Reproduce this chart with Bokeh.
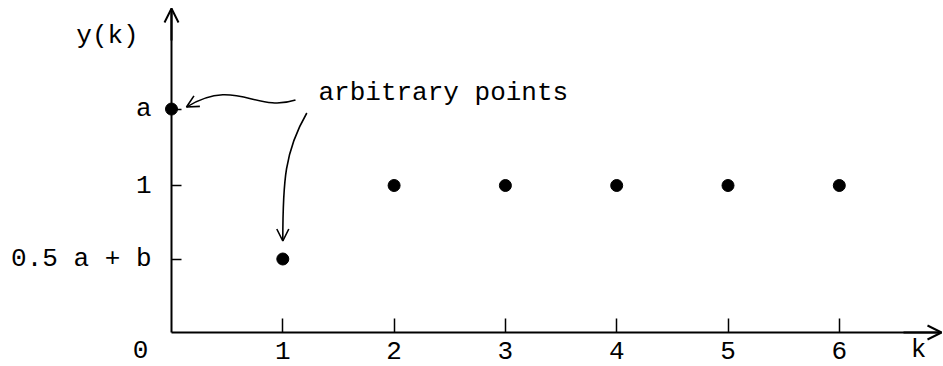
from bokeh.plotting import figure
from bokeh.models import Range1d, FixedTicker, Arrow, OpenHead, Label
from bokeh.embed import file_html
from bokeh.resources import INLINE

# ---- data ----
k_values = [0, 1, 2, 3, 4, 5, 6]
a_value = 1.52
half_a_plus_b = 0.5
y_values = [a_value, half_a_plus_b, 1, 1, 1, 1, 1]

x_tick_values = [1, 2, 3, 4, 5, 6]
x_tick_labels = ["1", "2", "3", "4", "5", "6"]
y_tick_values = [half_a_plus_b, 1, a_value]
y_tick_labels = ["0.5 a + b", "1", "a"]

origin_label = "0"
x_name = "k"
y_name = "y(k)"
note_text = "arbitrary points"

FONT = "Liberation Mono"
FSIZE = "26px"

# ---- geometry (pixels per unit) ----
W, H = 943, 366
PX_X, PX_Y = 111.3, 147.0
ORIGIN_X, ORIGIN_Y = 171, 332  # origin position inside figure (from left, from top)
x_lo = -ORIGIN_X / PX_X
x_hi = (W - ORIGIN_X) / PX_X
y_lo = -(H - ORIGIN_Y) / PX_Y
y_hi = ORIGIN_Y / PX_Y

def dx(px):
    return px / PX_X

def dy(px):
    return px / PX_Y

p = figure(width=W, height=H, x_range=Range1d(x_lo, x_hi), y_range=Range1d(y_lo, y_hi),
           output_backend="svg", toolbar_location=None, min_border=0,
           outline_line_color=None, background_fill_color="white")
p.grid.visible = False

# x axis
xa = p.xaxis[0]
xa.fixed_location = 0
xa.bounds = (0, x_hi - dx(2))
xa.ticker = FixedTicker(ticks=x_tick_values)
xa.major_label_overrides = {v: l for v, l in zip(x_tick_values, x_tick_labels)}
xa.minor_tick_line_color = None
xa.major_tick_in = 14
xa.major_tick_out = 0
xa.major_tick_line_width = 1.5
xa.axis_line_width = 2
xa.axis_line_color = "black"
xa.major_tick_line_color = "black"
xa.major_label_standoff = 9
xa.major_label_text_font = FONT
xa.major_label_text_font_size = FSIZE
xa.major_label_text_color = "black"

# y axis
ya = p.yaxis[0]
ya.fixed_location = 0
ya.bounds = (0, y_hi - dy(8))
ya.ticker = FixedTicker(ticks=y_tick_values)
ya.major_label_overrides = {v: l for v, l in zip(y_tick_values, y_tick_labels)}
ya.minor_tick_line_color = None
ya.major_tick_in = 10
ya.major_tick_out = 0
ya.major_tick_line_width = 1.5
ya.axis_line_width = 2
ya.axis_line_color = "black"
ya.major_tick_line_color = "black"
ya.major_label_standoff = 20
ya.major_label_text_font = FONT
ya.major_label_text_font_size = FSIZE
ya.major_label_text_color = "black"

# axis arrow heads
p.add_layout(Arrow(end=OpenHead(size=14, line_width=2, line_color="black"),
                   x_start=0, y_start=y_hi - dy(40), x_end=0, y_end=y_hi - dy(8),
                   line_width=2, line_color="black"))
p.add_layout(Arrow(end=OpenHead(size=14, line_width=2, line_color="black"),
                   x_start=x_hi - dx(40), y_start=0, x_end=x_hi - dx(2), y_end=0,
                   line_width=2, line_color="black"))

# data points
p.scatter(k_values, y_values, size=12, color="black", marker="circle")

# texts
label_kw = dict(text_font=FONT, text_font_size=FSIZE, text_color="black")
p.add_layout(Label(x=-dx(31), y=-dy(17), text=origin_label, text_align="center",
                   text_baseline="middle", **label_kw))
p.add_layout(Label(x=x_hi - dx(25), y=-dy(17), text=x_name, text_align="center",
                   text_baseline="middle", **label_kw))
p.add_layout(Label(x=-dx(64), y=y_hi - dy(35), text=y_name, text_align="center",
                   text_baseline="middle", **label_kw))
p.add_layout(Label(x=dx(147), y=y_hi - dy(92), text=note_text, text_align="left",
                   text_baseline="middle", **label_kw))

# curved pointer to the point at k=0
ax0, ay0 = k_values[0], y_values[0]
c1 = dict(x0=ax0 + dx(124), y0=ay0 + dy(9), x1=ax0 + dx(15), y1=ay0 + dy(2),
          cx0=ax0 + dx(84), cy0=ay0 - dy(4), cx1=ax0 + dx(64), cy1=ay0 + dy(32))
p.bezier(x0=[c1["x0"]], y0=[c1["y0"]], x1=[c1["x1"]], y1=[c1["y1"]],
         cx0=[c1["cx0"]], cy0=[c1["cy0"]], cx1=[c1["cx1"]], cy1=[c1["cy1"]],
         line_width=1.6, line_color="black")
p.add_layout(Arrow(end=OpenHead(size=12, line_width=1.6, line_color="black"),
                   x_start=c1["x1"] + dx(10), y_start=c1["y1"] + dy(5.7),
                   x_end=c1["x1"], y_end=c1["y1"], line_alpha=0))

# curved pointer to the point at k=1
bx0, by0 = k_values[1], y_values[1]
c2 = dict(x0=bx0 + dx(24), y0=by0 + dy(146), x1=bx0, y1=by0 + dy(18),
          cx0=bx0 + dx(2), cy0=by0 + dy(108), cx1=bx0, cy1=by0 + dy(78))
p.bezier(x0=[c2["x0"]], y0=[c2["y0"]], x1=[c2["x1"]], y1=[c2["y1"]],
         cx0=[c2["cx0"]], cy0=[c2["cy0"]], cx1=[c2["cx1"]], cy1=[c2["cy1"]],
         line_width=1.6, line_color="black")
p.add_layout(Arrow(end=OpenHead(size=12, line_width=1.6, line_color="black"),
                   x_start=c2["x1"], y_start=c2["y1"] + dy(10),
                   x_end=c2["x1"], y_end=c2["y1"], line_alpha=0))

open("out.html", "w").write(file_html(p, INLINE))
